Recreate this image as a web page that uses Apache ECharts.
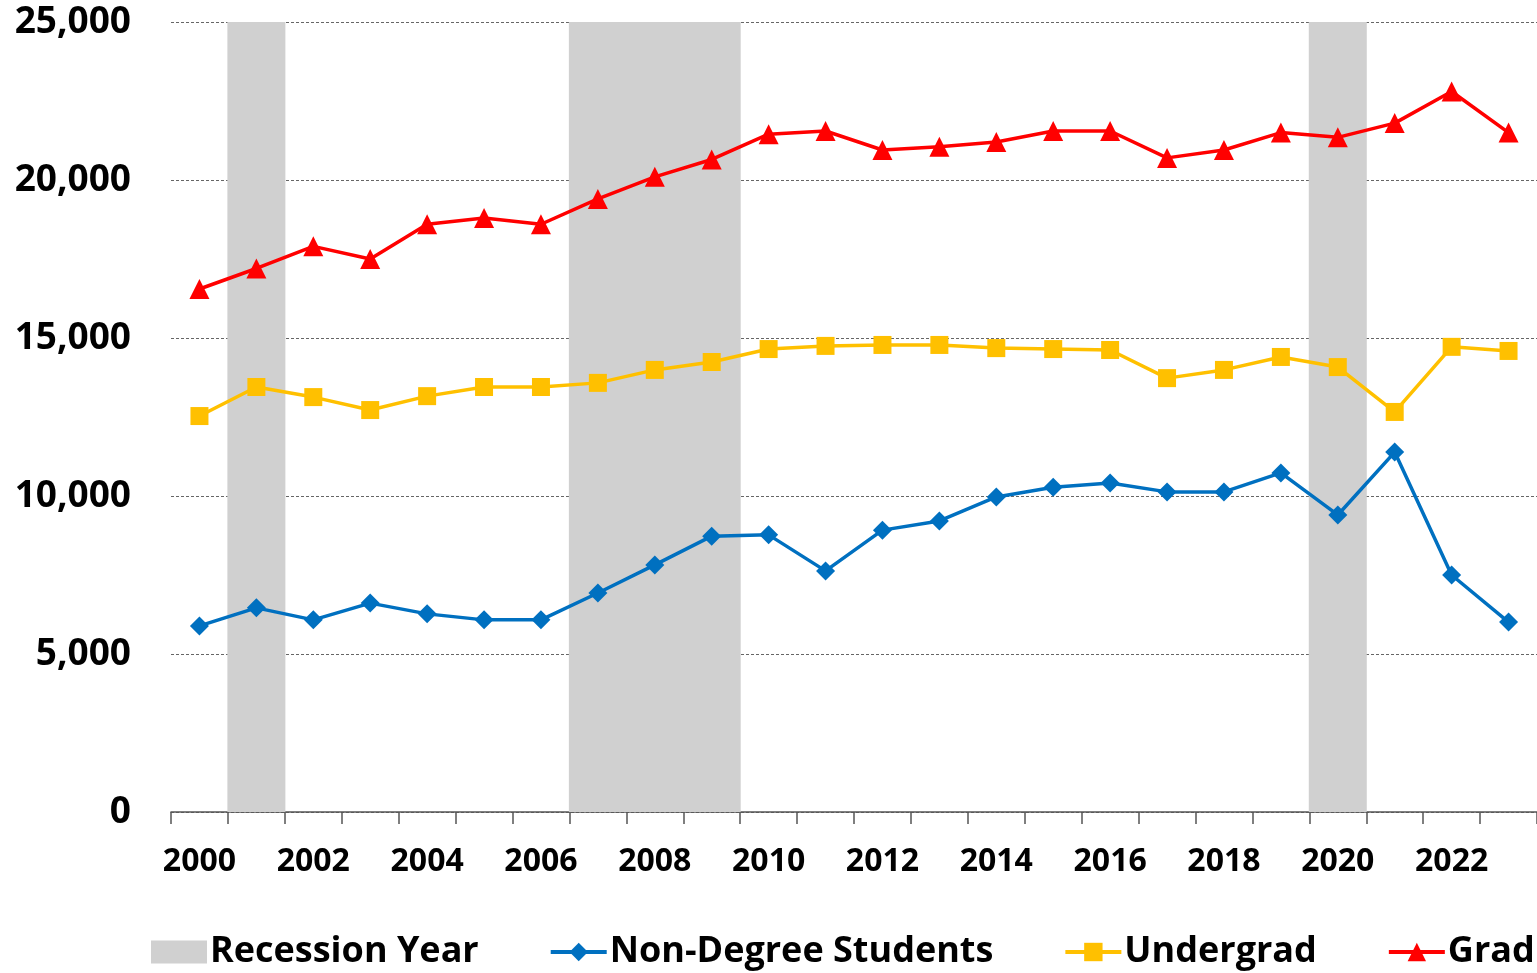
<!DOCTYPE html>
<html>
<head>
<meta charset="utf-8">
<script src="https://cdn.jsdelivr.net/npm/echarts@6/dist/echarts.min.js"></script>
<style>
  html, body { margin: 0; padding: 0; background: #fff; }
  #chart { width: 1537px; height: 973px; }
</style>
</head>
<body>
<div id="chart"></div>
<script>
const years = ['2000','2001','2002','2003','2004','2005','2006','2007','2008','2009','2010','2011',
               '2012','2013','2014','2015','2016','2017','2018','2019','2020','2021','2022','2023'];

const recessionYears = ['2001', '2007', '2008', '2009', '2020'];

const nonDegree = [5890, 6460, 6080, 6610, 6270, 6080, 6080, 6930, 7820, 8730, 8770, 7630,
                   8920, 9210, 9970, 10280, 10410, 10130, 10130, 10730, 9400, 11390, 7500, 6010];

const undergrad = [12530, 13450, 13130, 12720, 13160, 13450, 13450, 13580, 13990, 14240, 14650, 14750,
                   14780, 14780, 14680, 14650, 14620, 13730, 13990, 14400, 14080, 12660, 14720, 14590];

const grad = [16550, 17200, 17900, 17500, 18600, 18800, 18600, 19400, 20100, 20650, 21450, 21550,
              20950, 21050, 21200, 21550, 21550, 20700, 20950, 21500, 21350, 21800, 22800, 21500];

const yMax = 25000;

const FONT = '"Open Sans", sans-serif';

var myChart = echarts.init(document.getElementById('chart'));

var option = {
  animation: false,
  grid: { left: 171, right: 0, top: 22, bottom: 161 },
  legend: {
    bottom: 3,
    left: 151,
    padding: 0,
    itemGap: 70,
    itemWidth: 56,
    itemHeight: 23,
    lineStyle: { width: 4 },
    textStyle: { fontFamily: FONT, fontWeight: 'bold', fontSize: 36, color: '#000', padding: [0, 0, 0, -2] },
    data: [
      { name: 'Recession Year', icon: 'rect' },
      'Non-Degree Students',
      'Undergrad',
      'Grad'
    ]
  },
  xAxis: {
    type: 'category',
    data: years,
    boundaryGap: true,
    axisLine: { lineStyle: { color: '#555', width: 1.5 } },
    axisTick: { show: true, interval: 0, length: 12, lineStyle: { color: '#555', width: 1.5 } },
    axisLabel: {
      interval: 1,
      margin: 34,
      fontFamily: FONT, fontWeight: 'bold', fontSize: 32, color: '#000'
    }
  },
  yAxis: {
    type: 'value',
    min: 0,
    max: yMax,
    interval: 5000,
    axisLine: { show: false },
    axisTick: { show: false },
    splitLine: { lineStyle: { type: [3, 2], color: '#666', width: 1 } },
    axisLabel: {
      margin: 40,
      fontFamily: FONT, fontWeight: 'bold', fontSize: 37, color: '#000',
      formatter: v => v.toLocaleString('en-US')
    }
  },
  series: [
    {
      name: 'Recession Year',
      type: 'bar',
      barWidth: 58,
      z: 1,
      itemStyle: { color: '#d0d0d0' },
      data: years.map(y => recessionYears.includes(y) ? yMax : null)
    },
    {
      name: 'Non-Degree Students',
      type: 'line',
      z: 3,
      symbol: 'diamond',
      symbolSize: 19,
      lineStyle: { color: '#0070c0', width: 3.5 },
      itemStyle: { color: '#0070c0' },
      data: nonDegree
    },
    {
      name: 'Undergrad',
      type: 'line',
      z: 3,
      symbol: 'rect',
      symbolSize: 18,
      lineStyle: { color: '#ffc000', width: 3.5 },
      itemStyle: { color: '#ffc000' },
      data: undergrad
    },
    {
      name: 'Grad',
      type: 'line',
      z: 3,
      symbol: 'triangle',
      symbolSize: 20,
      lineStyle: { color: '#ff0000', width: 3.5 },
      itemStyle: { color: '#ff0000' },
      data: grad
    }
  ]
};

myChart.setOption(option);
</script>
</body>
</html>
